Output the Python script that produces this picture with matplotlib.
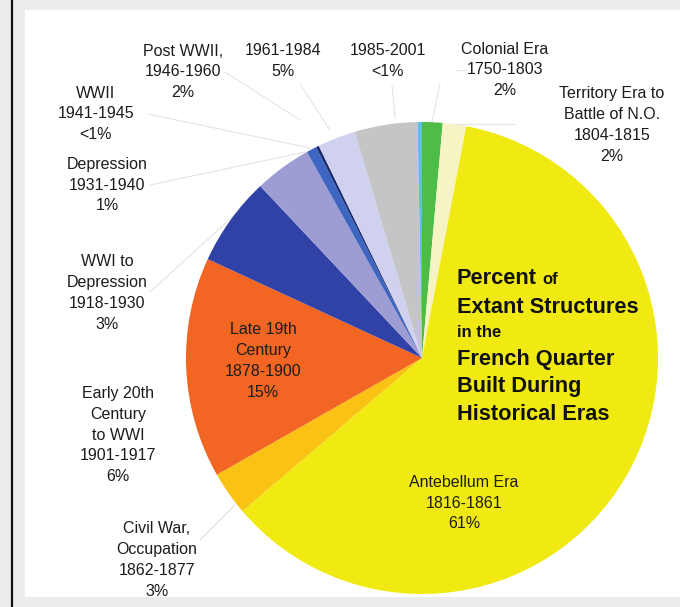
import matplotlib
matplotlib.use("Agg")
import matplotlib.pyplot as plt
from matplotlib.patches import Rectangle

plt.rcParams['font.family'] = ['Liberation Sans', 'DejaVu Sans']

# slices, clockwise from 12 o'clock (shares)
eras = ['Colonial Era', 'Territory Era to Battle of N.O.', 'Antebellum Era',
        'Civil War, Occupation', 'Late 19th Century', 'Early 20th Century to WWI',
        'WWI to Depression', 'Depression', 'WWII', 'Post WWII', '1961-1984', '1985-2001']
shares = [1.4, 1.6, 60.7, 3.0, 15.1, 6.1, 3.9, 0.7, 0.2, 2.6, 4.3, 0.3]
colors = ['#4dbd48', '#f6f3c4', '#f1ea12', '#f9c214', '#f26522', '#3042a6',
          '#9d9dd3', '#3d66c2', '#1c2a6e', '#d0d1ee', '#c5c5c8', '#62bde6']

# label texts
outer_labels = {
    'Post WWII': 'Post WWII,\n1946-1960\n2%',
    '1961-1984': '1961-1984\n5%',
    '1985-2001': '1985-2001\n<1%',
    'Colonial Era': 'Colonial Era\n1750-1803\n2%',
    'Territory': 'Territory Era to\nBattle of N.O.\n1804-1815\n2%',
    'WWII': 'WWII\n1941-1945\n<1%',
    'Depression': 'Depression\n1931-1940\n1%',
    'WWI to Depression': 'WWI to\nDepression\n1918-1930\n3%',
    'Early 20th': 'Early 20th\nCentury\nto WWI\n1901-1917\n6%',
    'Civil War': 'Civil War,\nOccupation\n1862-1877\n3%',
}
inner_labels = {
    'Late 19th': 'Late 19th\nCentury\n1878-1900\n15%',
    'Antebellum': 'Antebellum Era\n1816-1861\n61%',
}
title_lines = ['Percent', 'Extant Structures', 'in the', 'French Quarter',
               'Built During', 'Historical Eras']

H = 607
def Y(py):
    return H - py

fig = plt.figure(figsize=(6.8, 6.07), dpi=100, facecolor='#ececec')
ax = fig.add_axes([0, 0, 1, 1])

ax.pie(shares, colors=colors, startangle=90, counterclock=False,
       center=(422, Y(358)), radius=236,
       wedgeprops=dict(linewidth=0, antialiased=True))
ax.set_xlim(0, 680)
ax.set_ylim(0, H)
ax.set_aspect('auto')
ax.axis('off')

# white panel and left frame line
ax.add_patch(Rectangle((25, Y(597)), 660, 587, facecolor='white', edgecolor='none', zorder=-5))
ax.plot([12, 12], [0, H], color='#111111', lw=1.6, zorder=-4)

# faint leader lines
lc = '#e4e4e4'
leaders = [
    [(445, 124), (515, 124)],
    [(457, 70), (467, 70)],
    [(432, 122), (440, 84)],
    [(395, 118), (392, 86)],
    [(300, 84), (330, 130)],
    [(225, 72), (300, 120)],
    [(148, 114), (310, 148)],
    [(150, 185), (305, 152)],
    [(150, 292), (262, 190)],
    [(200, 540), (235, 505)],
]
for seg in leaders:
    xs = [p[0] for p in seg]
    ys = [Y(p[1]) for p in seg]
    ax.plot(xs, ys, color=lc, lw=0.8, zorder=-3)

tc = '#1c1c1c'
fs = 11.5
ls = 1.48
pos_outer = {
    'Post WWII': (183, 72),
    '1961-1984': (283, 61),
    '1985-2001': (388, 61),
    'Colonial Era': (505, 70),
    'Territory': (612, 125),
    'WWII': (96, 114),
    'Depression': (107, 185),
    'WWI to Depression': (107, 293),
    'Early 20th': (118, 435),
    'Civil War': (157, 560),
}
for key, txt in outer_labels.items():
    x, y = pos_outer[key]
    ax.text(x, Y(y), txt, ha='center', va='center', fontsize=fs,
            linespacing=ls, color=tc, zorder=5)

pos_inner = {
    'Late 19th': (263, 361),
    'Antebellum': (464, 503),
}
for key, txt in inner_labels.items():
    x, y = pos_inner[key]
    ax.text(x, Y(y), txt, ha='center', va='center', fontsize=fs,
            linespacing=ls, color=tc, zorder=5)

# title block inside the yellow slice
baselines = [284, 313, 337, 365, 392, 420]
sizes = [15.7, 15.7, 12, 15.7, 15.7, 15.7]
for line, b, s in zip(title_lines, baselines, sizes):
    t = ax.text(457, Y(b), line, ha='left', va='baseline', fontsize=s,
                fontweight='bold', color='#111111', zorder=5)
    if line == 'Percent':
        r = fig.canvas.get_renderer()
        bb = t.get_window_extent(r)
        ax.text(bb.x1 + 5, Y(b), 'of', ha='left', va='baseline', fontsize=12,
                fontweight='bold', color='#111111', zorder=5)

fig.savefig('out.png', dpi=100, facecolor=fig.get_facecolor())
